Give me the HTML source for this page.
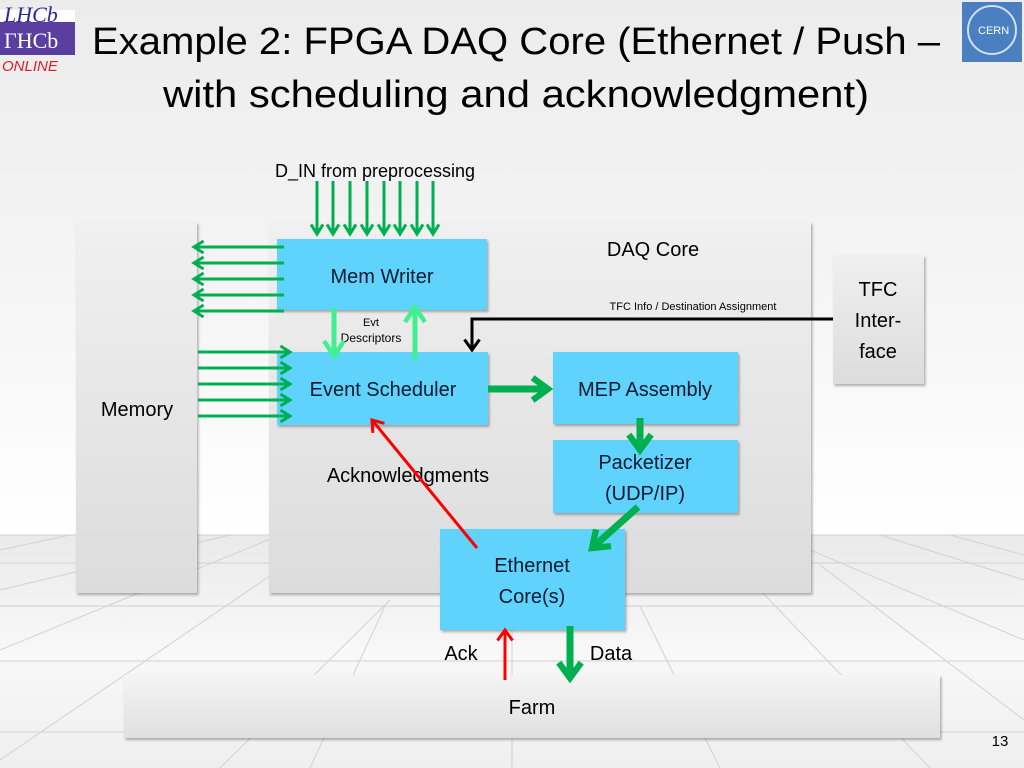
<!DOCTYPE html>
<html><head><meta charset="utf-8"><style>
html,body{margin:0;padding:0;width:1024px;height:768px;overflow:hidden;background:#fff}
svg{display:block;font-family:"Liberation Sans",sans-serif}
</style></head><body>
<svg width="1024" height="768" viewBox="0 0 1024 768" xmlns="http://www.w3.org/2000/svg">
<defs>
<linearGradient id="bg" x1="0" y1="0" x2="0" y2="1">
<stop offset="0" stop-color="#ececec"/><stop offset="0.6" stop-color="#f6f6f6"/><stop offset="1" stop-color="#ffffff"/>
</linearGradient>
<linearGradient id="fl" x1="0" y1="0" x2="0" y2="1">
<stop offset="0" stop-color="#eaeaea"/><stop offset="0.5" stop-color="#f8f8f8"/><stop offset="1" stop-color="#efefef"/>
</linearGradient>
<linearGradient id="gb" x1="0" y1="0" x2="0" y2="1">
<stop offset="0" stop-color="#f0f0f0"/><stop offset="1" stop-color="#dcdcdc"/>
</linearGradient>
<linearGradient id="farm" x1="0" y1="0" x2="0" y2="1">
<stop offset="0" stop-color="#f4f4f4"/><stop offset="1" stop-color="#e0e0e0"/>
</linearGradient>
<filter id="sh" x="-5%" y="-5%" width="115%" height="115%"><feDropShadow dx="1.5" dy="2" stdDeviation="1.2" flood-color="#000" flood-opacity="0.3"/></filter>
<marker id="ag" markerWidth="6" markerHeight="6" refX="4" refY="3" orient="auto" markerUnits="strokeWidth"><path d="M0.8,1 L4,3 L0.8,5" fill="none" stroke="#00b050" stroke-width="1"/></marker>
<marker id="agw" markerWidth="4" markerHeight="4" refX="2.6" refY="2" orient="auto" markerUnits="strokeWidth"><path d="M0.4,0.4 L2.6,2 L0.4,3.6" fill="none" stroke="#00b050" stroke-width="0.9"/></marker>
<marker id="al" markerWidth="5" markerHeight="5" refX="3.5" refY="2.5" orient="auto" markerUnits="strokeWidth"><path d="M0.5,0.5 L3.5,2.5 L0.5,4.5" fill="none" stroke="#40f090" stroke-width="0.9"/></marker>
<marker id="ar" markerWidth="6" markerHeight="6" refX="4" refY="3" orient="auto" markerUnits="strokeWidth"><path d="M0.5,0.5 L4,3 L0.5,5.5" fill="none" stroke="#ff0000" stroke-width="1"/></marker>
<marker id="ab" markerWidth="6" markerHeight="6" refX="4" refY="3" orient="auto" markerUnits="strokeWidth"><path d="M0.5,0.5 L4,3 L0.5,5.5" fill="none" stroke="#000" stroke-width="1"/></marker>
</defs>
<rect width="1024" height="535" fill="url(#bg)"/>
<rect y="535" width="1024" height="233" fill="url(#fl)"/>
<g stroke="#d2d2d2" stroke-width="1" fill="none">
<line x1="0" y1="535" x2="1024" y2="535"/>
<line x1="0" y1="563" x2="1024" y2="563"/>
<line x1="0" y1="606" x2="1024" y2="606"/>
<line x1="0" y1="661" x2="1024" y2="661"/>
<line x1="0" y1="732" x2="1024" y2="732"/>
<line x1="0" y1="550" x2="70" y2="535"/>
<line x1="0" y1="590" x2="230" y2="535"/>
<line x1="0" y1="650" x2="280" y2="535"/>
<line x1="0" y1="760" x2="330" y2="535"/>
<line x1="220" y1="768" x2="390" y2="600"/>
<line x1="310" y1="768" x2="385" y2="606"/>
<line x1="512" y1="606" x2="512" y2="768"/>
<line x1="640" y1="606" x2="720" y2="768"/>
<line x1="760" y1="590" x2="930" y2="768"/>
<line x1="820" y1="565" x2="1024" y2="720"/>
<line x1="810" y1="550" x2="1024" y2="640"/>
<line x1="880" y1="535" x2="1024" y2="580"/>
<line x1="950" y1="535" x2="1024" y2="555"/>
</g>
<!-- title -->
<text x="92" y="54" font-size="38" fill="#000" textLength="848" lengthAdjust="spacingAndGlyphs">Example 2: FPGA DAQ Core (Ethernet / Push –</text>
<text x="163" y="107" font-size="38" fill="#000" textLength="706" lengthAdjust="spacingAndGlyphs">with scheduling and acknowledgment)</text>
<!-- LHCb logo -->
<rect x="0" y="10" width="75" height="45" fill="#fff"/>
<rect x="0" y="22" width="75" height="33" fill="#5b3fa0"/>
<text x="4" y="22" font-size="22" font-style="italic" font-family="Liberation Serif,serif" fill="#2a2aa0">LHCb</text>
<text x="4" y="48" font-size="22" font-family="Liberation Serif,serif" fill="#fff">ΓHCb</text>
<text x="2" y="71" font-size="15" font-style="italic" fill="#e02020">ONLINE</text>
<!-- CERN logo -->
<rect x="962" y="2" width="60" height="60" fill="#4a7fc0"/>
<circle cx="992" cy="30" r="24" fill="none" stroke="#cfe0f5" stroke-width="2"/>
<text x="978" y="34" font-size="11" fill="#fff">CERN</text>
<!-- big gray boxes -->
<rect x="76" y="222" width="121" height="371" fill="url(#gb)" filter="url(#sh)"/>
<rect x="269" y="222" width="542" height="371" fill="url(#gb)" filter="url(#sh)"/>
<rect x="833" y="255" width="91" height="129" fill="url(#gb)" filter="url(#sh)"/>
<rect x="124" y="675" width="816" height="63" fill="url(#farm)" filter="url(#sh)"/>
<!-- blue boxes -->
<g fill="#61d3fd" filter="url(#sh)">
<rect x="277" y="239" width="210" height="71"/>
<rect x="277" y="352" width="211" height="73"/>
<rect x="553" y="352" width="185" height="72"/>
<rect x="553" y="440" width="185" height="73"/>
<rect x="440" y="529" width="185" height="101"/>
</g>
<!-- texts -->
<g fill="#000" font-size="20" text-anchor="middle">
<text x="382" y="283" fill="#0a1a30">Mem Writer</text>
<text x="383" y="396" fill="#0a1a30">Event Scheduler</text>
<text x="645" y="396" fill="#0a1a30">MEP Assembly</text>
<text x="645" y="469" fill="#0a1a30">Packetizer</text>
<text x="645" y="500" fill="#0a1a30">(UDP/IP)</text>
<text x="532" y="572" fill="#0a1a30">Ethernet</text>
<text x="532" y="603" fill="#0a1a30">Core(s)</text>
<text x="653" y="256">DAQ Core</text>
<text x="137" y="416">Memory</text>
<text x="878" y="296">TFC</text>
<text x="878" y="327">Inter-</text>
<text x="878" y="358">face</text>
<text x="408" y="482">Acknowledgments</text>
<text x="532" y="714">Farm</text>
<text x="461" y="660">Ack</text>
<text x="611" y="660">Data</text>
<text x="375" y="177" font-size="18">D_IN from preprocessing</text>
<text x="693" y="310" font-size="11">TFC Info / Destination Assignment</text>
<text x="371" y="326" font-size="11">Evt</text>
<text x="371" y="342" font-size="12">Descriptors</text>
<text x="1000" y="746" font-size="15">13</text>
</g>
<!-- D_IN arrows -->
<g stroke="#00b050" stroke-width="3" marker-end="url(#ag)">
<line x1="317" y1="181" x2="317" y2="234"/>
<line x1="333" y1="181" x2="333" y2="234"/>
<line x1="350" y1="181" x2="350" y2="234"/>
<line x1="367" y1="181" x2="367" y2="234"/>
<line x1="384" y1="181" x2="384" y2="234"/>
<line x1="400" y1="181" x2="400" y2="234"/>
<line x1="417" y1="181" x2="417" y2="234"/>
<line x1="433" y1="181" x2="433" y2="234"/>
<line x1="284" y1="247" x2="194" y2="247"/>
<line x1="284" y1="263" x2="194" y2="263"/>
<line x1="284" y1="279" x2="194" y2="279"/>
<line x1="284" y1="295" x2="194" y2="295"/>
<line x1="284" y1="311" x2="194" y2="311"/>
<line x1="198" y1="352" x2="290" y2="352"/>
<line x1="198" y1="368" x2="290" y2="368"/>
<line x1="198" y1="384" x2="290" y2="384"/>
<line x1="198" y1="400" x2="290" y2="400"/>
<line x1="198" y1="416" x2="290" y2="416"/>
</g>
<g stroke="#40f090" stroke-width="5" marker-end="url(#al)">
<line x1="334" y1="308" x2="334" y2="356"/>
<line x1="415" y1="360" x2="415" y2="307"/>
</g>
<polyline points="833,319 472,319 472,350" fill="none" stroke="#000" stroke-width="3" marker-end="url(#ab)"/>
<g stroke="#00b050" stroke-width="7" marker-end="url(#agw)" fill="none">
<line x1="488" y1="389" x2="548" y2="389"/>
<line x1="640" y1="418" x2="640" y2="450"/>
<line x1="638" y1="507" x2="592" y2="548"/>
<line x1="570" y1="626" x2="570" y2="678"/>
</g>
<g stroke="#ff0000" stroke-width="3" marker-end="url(#ar)">
<line x1="477" y1="548" x2="372" y2="420"/>
<line x1="505" y1="680" x2="505" y2="630"/>
</g>
</svg>
</body></html>
